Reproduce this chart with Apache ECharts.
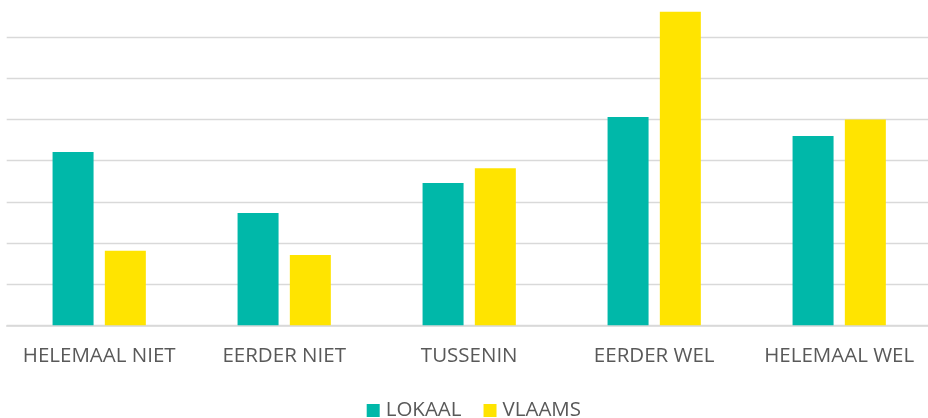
<!DOCTYPE html>
<html>
<head>
<meta charset="utf-8">
<script src="https://cdn.jsdelivr.net/npm/echarts@6/dist/echarts.min.js"></script>
<style>html,body{margin:0;padding:0;background:#fff;overflow:hidden}#c{width:940px;height:418px}</style>
</head>
<body>
<div id="c"></div>
<script>
const categories = ['HELEMAAL NIET', 'EERDER NIET', 'TUSSENIN', 'EERDER WEL', 'HELEMAAL WEL'];
const lokaal = [42.1, 27.3, 34.6, 50.6, 46.0];
const vlaams = [18.1, 17.1, 38.2, 76.2, 50.0];
const seriesNames = ['LOKAAL', 'VLAAMS'];

const FONT = '"Open Sans", sans-serif';
const chart = echarts.init(document.getElementById('c'), null, {renderer: 'canvas'});
chart.setOption({
  animation: false,
  grid: {left: 6.7, width: 925, top: 37.3, bottom: 92.7, containLabel: false},
  xAxis: {
    type: 'category',
    data: categories,
    axisLine: {lineStyle: {color: '#d9d9d9', width: 1.5}},
    axisTick: {show: false},
    axisLabel: {interval: 0, color: '#595959', fontFamily: FONT, fontSize: 20.5, lineHeight: 20, margin: 21}
  },
  yAxis: {
    type: 'value', min: 0, max: 70, interval: 10,
    axisLabel: {show: false}, axisLine: {show: false}, axisTick: {show: false},
    splitLine: {lineStyle: {color: '#d9d9d9', width: 1.3}}
  },
  legend: {
    data: seriesNames,
    left: 366.7, top: 400, padding: 0,
    itemWidth: 13, itemHeight: 13, itemGap: 22, icon: 'rect',
    textStyle: {color: '#595959', fontFamily: FONT, fontSize: 20.5, lineHeight: 20, padding: [0,0,0,1]}
  },
  series: [
    {name: seriesNames[0], type: 'bar', data: lokaal, barWidth: 41, barGap: '27.5%', clip: false,
     itemStyle: {color: '#00B8A9'}},
    {name: seriesNames[1], type: 'bar', data: vlaams, barWidth: 41, barGap: '27.5%', clip: false,
     itemStyle: {color: '#FFE400'}}
  ]
});
</script>
</body>
</html>
